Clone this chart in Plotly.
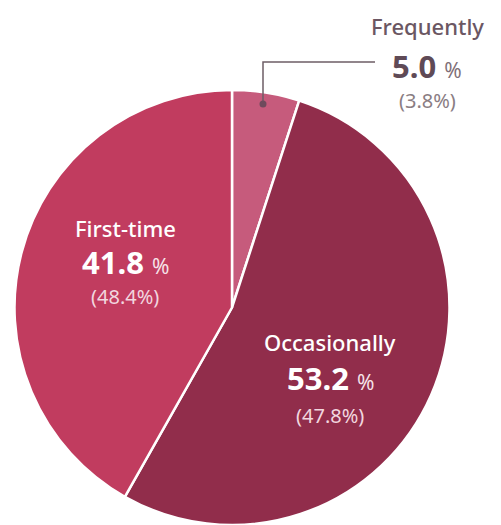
import plotly.graph_objects as go

categories = ["Frequently", "Occasionally", "First-time"]
shares = [5.0, 53.2, 41.8]
prior_shares = [3.8, 47.8, 48.4]
slice_colors = ["#C65B7C", "#912D4B", "#C13C5F"]

W, H = 501, 525
FONT = "Noto Sans"


def px(x, y):
    return x / W, 1 - y / H


fig = go.Figure()
fig.add_trace(go.Pie(
    labels=categories,
    values=shares,
    sort=False,
    direction="clockwise",
    rotation=0,
    textinfo="none",
    hoverinfo="skip",
    marker=dict(colors=slice_colors, line=dict(color="white", width=2.5)),
    domain=dict(x=[14.5 / W, 449.5 / W], y=[0, 435 / H]),
    showlegend=False,
))

# label layout: (center x, y of name, y of value, y of prior)
label_pos = {
    "Frequently": (427, 26, 66, 101),
    "Occasionally": (330, 342, 378, 415),
    "First-time": (125, 228, 262, 296),
}
outside = {"Frequently"}

annotations = []
for cat, val, prev in zip(categories, shares, prior_shares):
    cx, yn, yv, yp = label_pos[cat]
    if cat in outside:
        c_name, c_val, c_pct, c_prev = "#6B5763", "#5F4A56", "#7F6F77", "#8A7D83"
    else:
        c_name, c_val, c_pct, c_prev = "#FFFFFF", "#FFFFFF", "#F6E3E9", "#F2D6DF"
    x, y = px(cx, yn)
    annotations.append(dict(x=x, y=y, xref="paper", yref="paper", text=cat,
                            showarrow=False, xanchor="center", yanchor="middle",
                            font=dict(family=FONT, size=22, color=c_name, weight=500)))
    x, y = px(cx, yv)
    annotations.append(dict(x=x, y=y, xref="paper", yref="paper",
                            text=f"<b>{val:.1f}</b> <span style='font-size:21px;color:{c_pct}'>%</span>",
                            showarrow=False, xanchor="center", yanchor="middle",
                            font=dict(family=FONT, size=31, color=c_val)))
    x, y = px(cx, yp)
    annotations.append(dict(x=x, y=y, xref="paper", yref="paper", text=f"({prev:.1f}%)",
                            showarrow=False, xanchor="center", yanchor="middle",
                            font=dict(family=FONT, size=20, color=c_prev)))

x0, y0 = px(263, 104)
x1, y1 = px(263, 62)
x2, y2 = px(375, 62)
shapes = [
    dict(type="path", xref="paper", yref="paper",
         path=f"M {x0},{y0} L {x1},{y1} L {x2},{y2}",
         line=dict(color="#6E5E66", width=1.5)),
    dict(type="circle", xref="paper", yref="paper",
         x0=(263 - 3.5) / W, x1=(263 + 3.5) / W,
         y0=1 - (104 + 3.5) / H, y1=1 - (104 - 3.5) / H,
         fillcolor="#6E4A5C", line=dict(width=0)),
]

fig.update_layout(
    width=W, height=H,
    margin=dict(l=0, r=0, t=0, b=0),
    paper_bgcolor="white",
    plot_bgcolor="white",
    annotations=annotations,
    shapes=shapes,
)

fig.write_html("out.html")
